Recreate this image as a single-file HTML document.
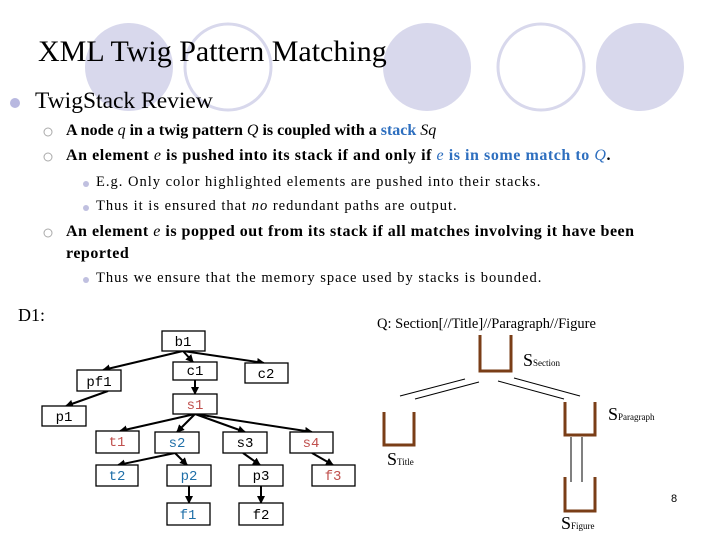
<!DOCTYPE html>
<html><head><meta charset="utf-8"><style>
body{margin:0;width:720px;height:540px;background:#fff;position:relative;overflow:hidden;font-family:"Liberation Serif",serif;color:#000}
.t{position:absolute;white-space:nowrap}
.b{color:#2e6fbf}
</style></head><body>
<svg width="720" height="540" style="position:absolute;left:0;top:0">
<circle cx="129" cy="67" r="44" fill="#d8d8ec"/>
<circle cx="228" cy="67" r="43" fill="none" stroke="#d8d8ec" stroke-width="3"/>
<circle cx="427" cy="67" r="44" fill="#d8d8ec"/>
<circle cx="541" cy="67" r="43" fill="none" stroke="#d8d8ec" stroke-width="3"/>
<circle cx="640" cy="67" r="44" fill="#d8d8ec"/>
<circle cx="15" cy="103" r="5" fill="#b8b8e0"/>
<circle cx="48" cy="132" r="4" fill="none" stroke="#aaa"/>
<circle cx="48" cy="157" r="4" fill="none" stroke="#aaa"/>
<circle cx="48" cy="233" r="4" fill="none" stroke="#aaa"/>
<circle cx="86" cy="184" r="3" fill="#c0c0e0"/>
<circle cx="86" cy="208" r="3" fill="#c0c0e0"/>
<circle cx="86" cy="280" r="3" fill="#c0c0e0"/>
<defs><marker id="a" markerWidth="8" markerHeight="8" refX="7" refY="4" orient="auto" markerUnits="userSpaceOnUse"><path d="M0,0L8,4L0,8z" fill="#000"/></marker></defs>
<g stroke="#000" stroke-width="2" marker-end="url(#a)">
<line x1="183" y1="351" x2="103" y2="370"/>
<line x1="183" y1="351" x2="193" y2="362"/>
<line x1="183" y1="351" x2="264" y2="363"/>
<line x1="195" y1="380" x2="195" y2="394"/>
<line x1="108" y1="391" x2="66" y2="406"/>
<line x1="195" y1="414" x2="120" y2="431"/>
<line x1="195" y1="414" x2="177" y2="432"/>
<line x1="195" y1="414" x2="245" y2="432"/>
<line x1="195" y1="414" x2="312" y2="432"/>
<line x1="175" y1="453" x2="118" y2="465"/>
<line x1="175" y1="453" x2="187" y2="465"/>
<line x1="243" y1="453" x2="260" y2="465"/>
<line x1="312" y1="453" x2="333" y2="465"/>
<line x1="189" y1="486" x2="189" y2="503"/>
<line x1="261" y1="486" x2="261" y2="503"/>
</g>
<g fill="#fff" stroke="#000" stroke-width="1.3">
<rect x="162" y="331" width="43" height="20"/>
<rect x="173" y="362" width="44" height="18"/>
<rect x="245" y="363" width="43" height="20"/>
<rect x="77" y="370" width="44" height="21"/>
<rect x="42" y="406" width="44" height="20"/>
<rect x="173" y="394" width="44" height="20"/>
<rect x="96" y="431" width="43" height="22"/>
<rect x="155" y="432" width="44" height="21"/>
<rect x="223" y="432" width="44" height="21"/>
<rect x="290" y="432" width="43" height="21"/>
<rect x="96" y="465" width="42" height="21"/>
<rect x="167" y="465" width="44" height="21"/>
<rect x="239" y="465" width="44" height="21"/>
<rect x="312" y="465" width="43" height="21"/>
<rect x="167" y="503" width="43" height="22"/>
<rect x="239" y="503" width="44" height="22"/>
</g>
<g font-family="Liberation Mono, monospace" font-size="14" text-anchor="middle">
<text x="183" y="346">b1</text>
<text x="195" y="375">c1</text>
<text x="266" y="378">c2</text>
<text x="99" y="386">pf1</text>
<text x="64" y="421">p1</text>
<text x="195" y="409" fill="#c0504d">s1</text>
<text x="117" y="446" fill="#c0504d">t1</text>
<text x="177" y="447" fill="#1f6fa8">s2</text>
<text x="245" y="447">s3</text>
<text x="311" y="447" fill="#c0504d">s4</text>
<text x="117" y="480" fill="#1f6fa8">t2</text>
<text x="189" y="480" fill="#1f6fa8">p2</text>
<text x="261" y="480">p3</text>
<text x="333" y="480" fill="#c0504d">f3</text>
<text x="188" y="519" fill="#1f6fa8">f1</text>
<text x="261" y="519">f2</text>
</g>
<g fill="none" stroke="#7a3e17" stroke-width="3">
<path d="M480,335V371H511V335"/>
<path d="M384,412V445H414V412"/>
<path d="M565,402V435H595V402"/>
<path d="M565,477V511H595V477"/>
</g>
<g stroke="#000" stroke-width="1">
<line x1="400" y1="396" x2="465" y2="379"/>
<line x1="415" y1="399" x2="479" y2="382"/>
<line x1="498" y1="381" x2="564" y2="399"/>
<line x1="514" y1="378" x2="580" y2="396"/>
<line x1="571" y1="437" x2="571" y2="482"/>
<line x1="582" y1="437" x2="582" y2="482"/>
</g>
</svg>
<div class="t" style="left:38px;top:35px;font-size:30px">XML Twig Pattern Matching</div>
<div class="t" style="left:35px;top:88px;font-size:23.5px">TwigStack Review</div>
<div class="t" style="left:66px;top:122px;font-size:16px;font-weight:bold">A node <i style="font-weight:normal">q</i> in a twig pattern <i style="font-weight:normal">Q</i> is coupled with a <span class="b">stack</span> <i style="font-weight:normal">Sq</i></div>
<div class="t" style="left:66px;top:147px;font-size:16px;font-weight:bold;letter-spacing:0.55px">An element <i style="font-weight:normal">e</i> is pushed into its stack if and only if <span class="b"><i style="font-weight:normal">e</i> is in some match to <i style="font-weight:normal">Q</i></span>.</div>
<div class="t" style="left:96px;top:174px;font-size:14.5px;letter-spacing:1px">E.g. Only color highlighted elements are pushed into their stacks.</div>
<div class="t" style="left:96px;top:198px;font-size:14.5px;letter-spacing:1px">Thus it is ensured that <i>no</i> redundant paths are output.</div>
<div class="t" style="left:66px;top:223px;font-size:16px;font-weight:bold;letter-spacing:0.5px">An element <i style="font-weight:normal">e</i> is popped out from its stack if all matches involving it have been</div>
<div class="t" style="left:66px;top:245px;font-size:16px;font-weight:bold;letter-spacing:0.5px">reported</div>
<div class="t" style="left:96px;top:270px;font-size:14.5px;letter-spacing:1px">Thus we ensure that the memory space used by stacks is bounded.</div>
<div class="t" style="left:18px;top:305px;font-size:18px">D1:</div>
<div class="t" style="left:377px;top:316px;font-size:14.5px">Q: Section[//Title]//Paragraph//Figure</div>
<div class="t" style="left:523px;top:350px;font-size:18px">S<span style="font-size:9px">Section</span></div>
<div class="t" style="left:608px;top:404px;font-size:18px">S<span style="font-size:9px">Paragraph</span></div>
<div class="t" style="left:387px;top:449px;font-size:18px">S<span style="font-size:9px">Title</span></div>
<div class="t" style="left:561px;top:513px;font-size:18px">S<span style="font-size:9px">Figure</span></div>
<div class="t" style="left:671px;top:493px;font-size:11px;font-family:'Liberation Sans',sans-serif">8</div>
</body></html>
